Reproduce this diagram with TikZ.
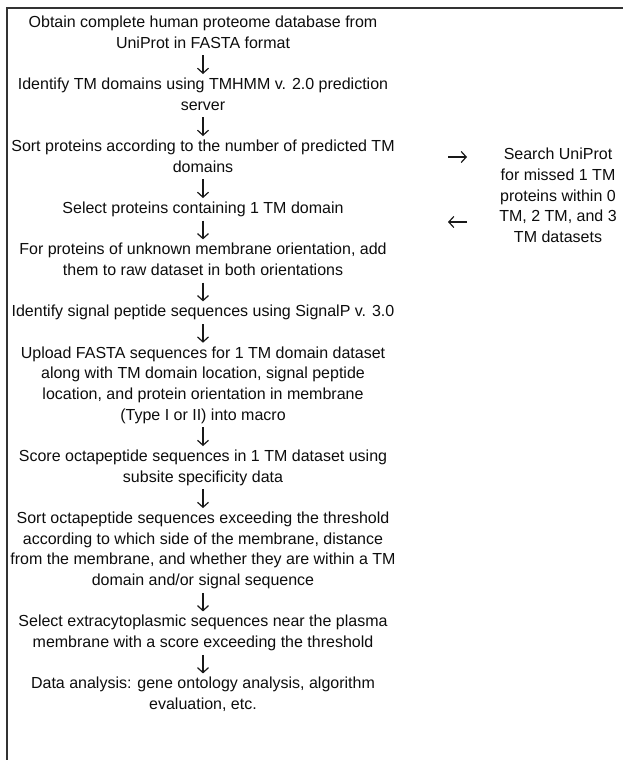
\documentclass[tikz,border=0pt]{standalone}
\usepackage{fontspec}
\setmainfont{Liberation Sans}
\usetikzlibrary{arrows.meta}
\newcommand\mystrut{\rule[-6.2pt]{0pt}{20.67pt}}
\begin{document}
\begin{tikzpicture}[x=1pt,y=1pt,
  stepbox/.style={inner sep=0pt, outer sep=0pt, align=center, anchor=north,
    font=\fontsize{16}{20.67}\selectfont, text=black!95},
  sidebox/.style={stepbox, font=\fontsize{16}{20.67}\selectfont},
  arr/.style={draw=black!90, line width=1.2pt, -{Straight Barb[length=5pt,width=11pt,line width=1.2pt]}, shorten <=1pt, shorten >=1pt},
  frame/.style={draw=black!80, line width=1.8pt}]
\useasboundingbox (0,0) rectangle (622,-760);
\draw[frame] (7,-762) -- (7,-8) -- (624,-8);
\node[stepbox] (s1) at (203,-13) {\mystrut Obtain complete human proteome database from\\UniProt in FASTA format\mystrut};
\node[stepbox] (s2) at (203,-75.01) {\mystrut Identify TM domains using TMHMM v. 2.0 prediction\\server\mystrut};
\node[stepbox] (s3) at (203,-137.02) {\mystrut Sort proteins according to the number of predicted TM\\domains\mystrut};
\node[stepbox] (s4) at (203,-199.03) {\mystrut Select proteins containing 1 TM domain\mystrut};
\node[stepbox] (s5) at (203,-240.37) {\mystrut For proteins of unknown membrane orientation, add\\them to raw dataset in both orientations\mystrut};
\node[stepbox] (s6) at (203,-302.38) {\mystrut Identify signal peptide sequences using SignalP v. 3.0\mystrut};
\node[stepbox] (s7) at (203,-343.72) {\mystrut Upload FASTA sequences for 1 TM domain dataset\\along with TM domain location, signal peptide\\location, and protein orientation in membrane\\(Type I or II) into macro\mystrut};
\node[stepbox] (s8) at (203,-447.07) {\mystrut Score octapeptide sequences in 1 TM dataset using\\subsite specificity data\mystrut};
\node[stepbox] (s9) at (203,-509.08) {\mystrut Sort octapeptide sequences exceeding the threshold\\according to which side of the membrane, distance\\from the membrane, and whether they are within a TM\\domain and/or signal sequence\mystrut};
\node[stepbox] (s10) at (203,-612.43) {\mystrut Select extracytoplasmic sequences near the plasma\\membrane with a score exceeding the threshold\mystrut};
\node[stepbox] (s11) at (203,-674.44) {\mystrut Data analysis: gene ontology analysis, algorithm\\evaluation, etc.\mystrut};
\foreach \a/\b in {s1/s2,s2/s3,s3/s4,s4/s5,s5/s6,s6/s7,s7/s8,s8/s9,s9/s10,s10/s11}
  \draw[arr] (\a.south) -- (\b.north);
\node[sidebox] (r) at (558,-145.5) {\mystrut Search UniProt\\for missed 1 TM\\proteins within 0\\TM, 2 TM, and 3\\TM datasets\mystrut};
\coordinate (o1) at (447,-157);
\coordinate (o2) at (468,-157);
\coordinate (b1) at (468,-222);
\coordinate (b2) at (447,-222);
\draw[arr] (o1) -- (o2);
\draw[arr] (b1) -- (b2);
\end{tikzpicture}
\end{document}
